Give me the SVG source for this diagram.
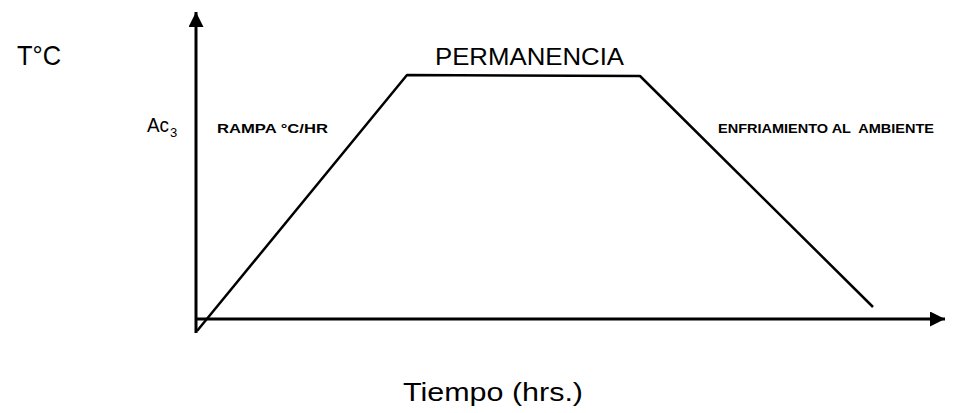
<svg xmlns="http://www.w3.org/2000/svg" width="967" height="413" viewBox="0 0 967 413">
<style>
.ax{stroke:#000;stroke-width:3;fill:none}
.cv{stroke:#000;stroke-width:2.5;fill:none;stroke-linejoin:round}
.big{font-family:"Liberation Sans",Arial,sans-serif;fill:#000}
.sm{font-family:"Liberation Sans",Arial,sans-serif;font-weight:bold;fill:#000}
</style>
<defs>
<marker id="ah" viewBox="0 0 10 10" refX="10" refY="5" markerWidth="6" markerHeight="5" markerUnits="strokeWidth" orient="auto">
<path d="M0,0 L10,5 L0,10 Z" fill="#000"/>
</marker>
</defs>
<rect width="967" height="413" fill="#fff"/>
<g id="connectors">
<line class="ax" x1="196" y1="333" x2="196" y2="12" marker-end="url(#ah)"/>
<line class="ax" x1="196" y1="319" x2="945" y2="319" marker-end="url(#ah)"/>
<polyline class="cv" points="197,331 407,75 640,76 873,307"/>
</g>
<g id="label-tc"><text class="big" x="17" y="65" font-size="28" textLength="44" lengthAdjust="spacingAndGlyphs">T°C</text></g>
<g id="label-ac3"><text class="big" x="147" y="132" font-size="20" textLength="22" lengthAdjust="spacingAndGlyphs">Ac</text><text class="big" x="170" y="137" font-size="13">3</text></g>
<g id="label-rampa"><text class="sm" x="217" y="133" font-size="12" textLength="111" lengthAdjust="spacingAndGlyphs">RAMPA °C/HR</text></g>
<g id="label-permanencia"><text class="big" x="435" y="65" font-size="24" textLength="189" lengthAdjust="spacingAndGlyphs">PERMANENCIA</text></g>
<g id="label-enfriamiento"><text class="sm" x="718" y="133" font-size="12" textLength="216" lengthAdjust="spacingAndGlyphs" xml:space="preserve">ENFRIAMIENTO AL  AMBIENTE</text></g>
<g id="label-tiempo"><text class="big" x="403" y="401" font-size="25" textLength="180" lengthAdjust="spacingAndGlyphs">Tiempo (hrs.)</text></g>
</svg>
